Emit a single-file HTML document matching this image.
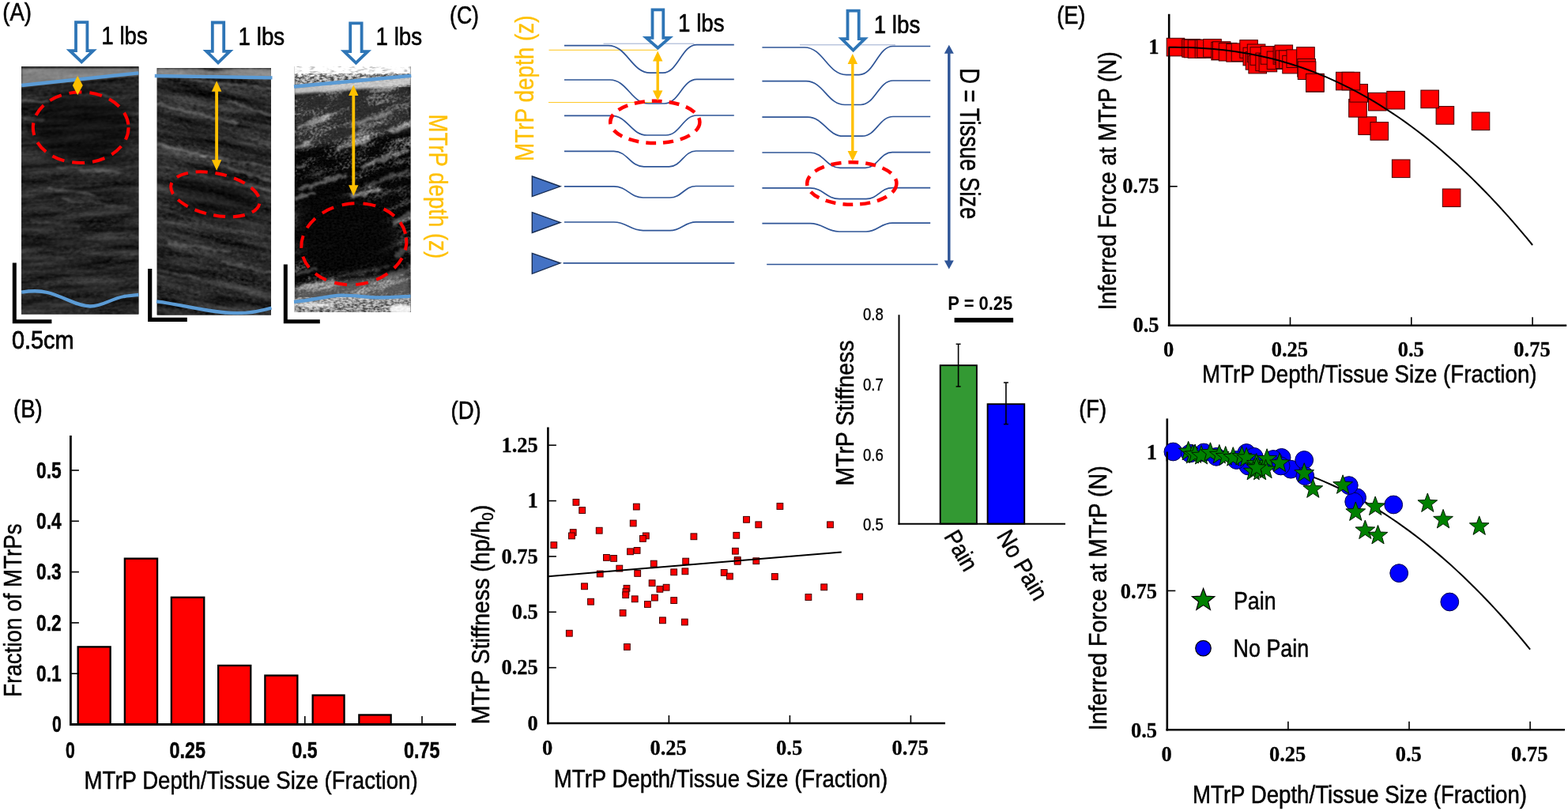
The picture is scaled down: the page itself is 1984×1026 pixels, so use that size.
<!DOCTYPE html>
<html lang="en"><head><meta charset="utf-8"><title>MTrP depth, stiffness and inferred force</title>
<style>
html,body{margin:0;padding:0;background:#fff;}
body{width:1984px;height:1026px;overflow:hidden;}
svg{display:block;font-family:"Liberation Sans",sans-serif;}
</style></head>
<body>
<svg width="1984" height="1026" viewBox="0 0 1984 1026">
<defs>
<filter id="us1" x="0" y="0" width="100%" height="100%" color-interpolation-filters="sRGB">
  <feTurbulence type="fractalNoise" baseFrequency="0.012 0.1" numOctaves="3" seed="7" result="a"/>
  <feTurbulence type="fractalNoise" baseFrequency="0.18 0.3" numOctaves="2" seed="2" result="b"/>
  <feComposite in="a" in2="b" operator="arithmetic" k1="0" k2="0.7" k3="0.3" k4="0"/>
  <feColorMatrix type="matrix" values="0.46 0 0 0 -0.082  0.46 0 0 0 -0.082  0.46 0 0 0 -0.082  0 0 0 0 1"/>
</filter>
<filter id="us2" x="0" y="0" width="100%" height="100%" color-interpolation-filters="sRGB">
  <feTurbulence type="fractalNoise" baseFrequency="0.011 0.085" numOctaves="3" seed="11" result="a"/>
  <feTurbulence type="fractalNoise" baseFrequency="0.2 0.3" numOctaves="2" seed="5" result="b"/>
  <feComposite in="a" in2="b" operator="arithmetic" k1="0" k2="0.65" k3="0.35" k4="0"/>
  <feColorMatrix type="matrix" values="0.56 0 0 0 -0.118  0.56 0 0 0 -0.118  0.56 0 0 0 -0.118  0 0 0 0 1"/>
</filter>
<filter id="us3" x="0" y="0" width="100%" height="100%" color-interpolation-filters="sRGB">
  <feTurbulence type="fractalNoise" baseFrequency="0.02 0.075" numOctaves="3" seed="23" result="a"/>
  <feTurbulence type="fractalNoise" baseFrequency="0.3 0.4" numOctaves="2" seed="9" result="b"/>
  <feComposite in="a" in2="b" operator="arithmetic" k1="0" k2="0.6" k3="0.4" k4="0"/>
  <feColorMatrix type="matrix" values="2.2 0 0 0 -1.07  2.2 0 0 0 -1.07  2.2 0 0 0 -1.07  0 0 0 0 1"/>
  <feGaussianBlur stdDeviation="0.7"/>
</filter>
<filter id="sp3" x="0" y="0" width="100%" height="100%" color-interpolation-filters="sRGB">
  <feTurbulence type="fractalNoise" baseFrequency="0.12 0.4" numOctaves="2" seed="4"/>
  <feColorMatrix type="matrix" values="2.2 0 0 0 -0.05  2.2 0 0 0 -0.05  2.2 0 0 0 -0.05  0 0 0 0 1"/>
</filter>
<filter id="sp5" x="0" y="0" width="100%" height="100%" color-interpolation-filters="sRGB">
  <feTurbulence type="fractalNoise" baseFrequency="0.22 0.4" numOctaves="2" seed="41"/>
  <feColorMatrix type="matrix" values="2.6 0 0 0 -0.72  2.6 0 0 0 -0.72  2.6 0 0 0 -0.72  0 0 0 0 1"/>
  <feGaussianBlur stdDeviation="0.5"/>
</filter>
<filter id="sp4" x="0" y="0" width="100%" height="100%" color-interpolation-filters="sRGB">
  <feTurbulence type="fractalNoise" baseFrequency="0.3 0.4" numOctaves="2" seed="14"/>
  <feColorMatrix type="matrix" values="2.4 0 0 0 -0.7  2.4 0 0 0 -0.7  2.4 0 0 0 -0.7  0 0 0 0 1"/>
</filter>
<filter id="bl1" x="-5%" y="-5%" width="110%" height="110%" color-interpolation-filters="sRGB">
  <feTurbulence type="fractalNoise" baseFrequency="0.09 0.12" numOctaves="2" seed="31" result="t"/>
  <feDisplacementMap in="SourceGraphic" in2="t" scale="7" xChannelSelector="R" yChannelSelector="G"/>
  <feGaussianBlur stdDeviation="1.1"/>
</filter>
<filter id="bl1b" x="-5%" y="-5%" width="110%" height="110%" color-interpolation-filters="sRGB">
  <feTurbulence type="fractalNoise" baseFrequency="0.11 0.15" numOctaves="2" seed="57" result="t"/>
  <feDisplacementMap in="SourceGraphic" in2="t" scale="10" xChannelSelector="R" yChannelSelector="G"/>
  <feGaussianBlur stdDeviation="1.3"/>
</filter>
<filter id="bl2" x="-20%" y="-50%" width="140%" height="200%"><feGaussianBlur stdDeviation="1.5"/></filter>
<filter id="bl3" x="-20%" y="-20%" width="140%" height="140%"><feGaussianBlur stdDeviation="3"/></filter>
<filter id="bl6" x="-30%" y="-30%" width="160%" height="160%"><feGaussianBlur stdDeviation="7"/></filter>
<filter id="bl10" x="-40%" y="-40%" width="180%" height="180%"><feGaussianBlur stdDeviation="11"/></filter>
<clipPath id="c1"><rect x="27" y="84.3" width="148.4" height="313.2"/></clipPath>
<clipPath id="c2"><rect x="198.7" y="86" width="144.3" height="312.4"/></clipPath>
<clipPath id="c3"><rect x="372.9" y="84" width="146.5" height="311"/></clipPath>
</defs>
<rect width="1984" height="1026" fill="#fff"/>
<text x="3.20" y="25.70" font-size="32" textLength="36.80" lengthAdjust="spacingAndGlyphs" stroke="#000" stroke-width="0.6">(A)</text>
<g clip-path="url(#c1)"><rect x="27" y="84" width="149" height="314" fill="#2b2b2b"/><g transform="rotate(-3 101 240)"><rect x="10" y="60" width="190" height="360" filter="url(#us1)"/></g><path d="M27,86 L176,86 L176,95 L27,110 Z" fill="#fff" opacity="0.42" filter="url(#bl2)"/><rect x="27" y="84" width="149" height="2.5" fill="#000" opacity="0.35"/><ellipse cx="104" cy="160" rx="62" ry="44" fill="#000" opacity="0.5" filter="url(#bl6)"/><g filter="url(#bl1)" stroke="#fff" stroke-linecap="round"><line x1="28" y1="126" x2="60" y2="130" stroke-width="3" opacity="0.2"/><line x1="30" y1="150" x2="55" y2="152" stroke-width="3" opacity="0.14"/><line x1="60" y1="238" x2="120" y2="247" stroke-width="3" opacity="0.18"/><line x1="80" y1="252" x2="160" y2="262" stroke-width="3" opacity="0.14"/><line x1="40" y1="280" x2="100" y2="286" stroke-width="4" opacity="0.1"/><line x1="110" y1="300" x2="175" y2="292" stroke-width="3" opacity="0.09"/><line x1="140" y1="330" x2="175" y2="322" stroke-width="4" opacity="0.09"/><line x1="90" y1="118" x2="150" y2="122" stroke-width="2.5" opacity="0.18"/><line x1="75" y1="212" x2="150" y2="218" stroke-width="3" opacity="0.15"/></g></g>
<g clip-path="url(#c2)"><rect x="198" y="85" width="146" height="314" fill="#333"/><g transform="rotate(11 271 240)"><rect x="160" y="40" width="230" height="400" filter="url(#us2)"/></g><ellipse cx="270" cy="248" rx="58" ry="26" fill="#000" opacity="0.4" filter="url(#bl6)" transform="rotate(12 270 248)"/><path d="M198,87 L250,87 L270,90 L300,87 L344,87 L344,99 L198,97 Z" fill="#fff" opacity="0.42" filter="url(#bl2)"/><g filter="url(#bl1)" stroke="#fff" stroke-linecap="round"><line x1="200" y1="132" x2="300" y2="156" stroke-width="3" opacity="0.22"/><line x1="290" y1="128" x2="343" y2="146" stroke-width="3" opacity="0.22"/><line x1="200" y1="182" x2="260" y2="198" stroke-width="4" opacity="0.26"/><line x1="255" y1="196" x2="343" y2="212" stroke-width="3" opacity="0.22"/><line x1="200" y1="210" x2="343" y2="242" stroke-width="2.5" opacity="0.15"/><line x1="290" y1="214" x2="343" y2="228" stroke-width="3" opacity="0.21"/><line x1="215" y1="308" x2="290" y2="318" stroke-width="4" opacity="0.19"/><line x1="280" y1="330" x2="343" y2="346" stroke-width="4" opacity="0.17"/><line x1="200" y1="262" x2="260" y2="282" stroke-width="3" opacity="0.11"/><line x1="200" y1="340" x2="250" y2="352" stroke-width="3" opacity="0.15"/><line x1="230" y1="100" x2="343" y2="112" stroke-width="3" opacity="0.19"/><line x1="200" y1="92" x2="260" y2="98" stroke-width="3" opacity="0.15"/></g></g>
<g clip-path="url(#c3)"><rect x="372" y="84" width="148" height="312" fill="#111"/><g transform="rotate(-17 446 240)"><rect x="320" y="30" width="260" height="420" filter="url(#us3)"/></g><path d="M372,118 L520,108 L520,165 L372,190 Z" fill="#fff" opacity="0.16" filter="url(#bl3)"/><ellipse cx="436" cy="300" rx="74" ry="54" fill="#000" opacity="0.95" filter="url(#bl10)"/><ellipse cx="400" cy="250" rx="40" ry="34" fill="#000" opacity="0.75" filter="url(#bl6)"/><ellipse cx="505" cy="235" rx="26" ry="26" fill="#000" opacity="0.5" filter="url(#bl6)"/><g filter="url(#bl1b)" stroke="#fff" stroke-linecap="round"><line x1="380" y1="160" x2="415" y2="149" stroke-width="5" opacity="0.4"/><line x1="445" y1="158" x2="495" y2="142" stroke-width="5" opacity="0.36"/><line x1="376" y1="186" x2="390" y2="181" stroke-width="5" opacity="0.44"/><line x1="425" y1="189" x2="465" y2="177" stroke-width="5" opacity="0.36"/><line x1="495" y1="165" x2="518" y2="158" stroke-width="5" opacity="0.44"/><line x1="376" y1="212" x2="384" y2="209" stroke-width="5" opacity="0.36"/><line x1="460" y1="210" x2="515" y2="190" stroke-width="6" opacity="0.36"/><line x1="380" y1="239" x2="435" y2="222" stroke-width="5" opacity="0.32"/><line x1="465" y1="234" x2="515" y2="216" stroke-width="5" opacity="0.24"/><line x1="376" y1="250" x2="398" y2="243" stroke-width="5" opacity="0.36"/><line x1="445" y1="249" x2="480" y2="239" stroke-width="6" opacity="0.4"/><line x1="376" y1="346" x2="400" y2="340" stroke-width="4" opacity="0.24"/><line x1="430" y1="350" x2="490" y2="338" stroke-width="4" opacity="0.16"/><line x1="376" y1="364" x2="420" y2="356" stroke-width="5" opacity="0.4"/><line x1="500" y1="282" x2="520" y2="272" stroke-width="8" opacity="0.28"/><line x1="503" y1="322" x2="520" y2="314" stroke-width="8" opacity="0.24"/><line x1="490" y1="350" x2="520" y2="340" stroke-width="8" opacity="0.24"/></g><path d="M372,84 L520,84 L520,93 L372,97 Z" fill="#fff"/><path d="M372,84 L520,84 L520,93 L372,97 Z" filter="url(#sp3)" opacity="0.55"/><path d="M372,97 L520,93 L520,99 L372,110 Z" fill="#9c9c9c"/><path d="M372,97 L520,93 L520,99 L372,110 Z" filter="url(#sp5)" opacity="0.6"/><path d="M372,110 L520,97 L520,108 L372,119 Z" fill="#d8d8d8" opacity="0.9" filter="url(#bl2)"/><path d="M372,384 L432,376 L480,379 L520,377 L520,396 L372,396 Z" fill="#9a9a9a" opacity="0.9"/><path d="M372,384 L432,376 L480,379 L520,377 L520,396 L372,396 Z" filter="url(#sp5)" opacity="0.5"/><path d="M372,362 L520,346 L520,378 L372,384 Z" fill="#fff" opacity="0.34" filter="url(#bl3)"/><ellipse cx="508" cy="391" rx="16" ry="6" fill="#fff" opacity="0.95" filter="url(#bl2)"/><ellipse cx="400" cy="386" rx="24" ry="2.5" fill="#fff" opacity="0.8" filter="url(#bl2)"/><rect x="372" y="97" width="148" height="300" filter="url(#sp4)" opacity="0.05"/></g>
<path d="M96.00,28.10 L110.40,28.10 L110.40,64.20 L118.02,64.20 L103.20,78.35 L88.38,64.20 L96.00,64.20 Z" fill="#fff" stroke="#2E75B6" stroke-width="3.8" stroke-linejoin="miter"/>
<path d="M268.80,28.50 L283.20,28.50 L283.20,64.90 L290.82,64.90 L276.00,79.35 L261.18,64.90 L268.80,64.90 Z" fill="#fff" stroke="#2E75B6" stroke-width="3.8" stroke-linejoin="miter"/>
<path d="M443.20,29.30 L457.60,29.30 L457.60,65.20 L465.32,65.20 L450.40,79.55 L435.48,65.20 L443.20,65.20 Z" fill="#fff" stroke="#2E75B6" stroke-width="3.8" stroke-linejoin="miter"/>
<text x="128.30" y="55.90" font-size="30.8" textLength="58.60" lengthAdjust="spacingAndGlyphs" stroke="#000" stroke-width="0.6">1 lbs</text>
<text x="301.60" y="57.40" font-size="30.8" textLength="58.60" lengthAdjust="spacingAndGlyphs" stroke="#000" stroke-width="0.6">1 lbs</text>
<text x="475.50" y="57.40" font-size="30.8" textLength="58.60" lengthAdjust="spacingAndGlyphs" stroke="#000" stroke-width="0.6">1 lbs</text>
<g fill="none" stroke="#5B9BD5" stroke-width="4.3">
<path d="M27.2,108 L175.4,92.3"/>
<path d="M27.2,369.6 C38,368 48,367 60,370 C80,375 98,387.5 114,387.5 C130,387.5 140,378 157,375 C164,374 170,373.5 175.4,373"/>
<path d="M195.8,96 L344.5,98.3"/>
<path d="M198,381.3 C235,386 265,396 300,396.2 C318,396.2 332,393 343.5,389.5"/>
<path d="M372,109.5 L520.3,95.8"/>
<path d="M372,381.8 C395,380 415,374 432,373.6 C450,373.4 465,376.5 480,376.4 C495,376.3 508,375.3 519.5,374.7"/>
</g>
<g fill="none" stroke="#FF0000" stroke-width="4">
<ellipse cx="102.2" cy="161.3" rx="60.4" ry="44.8" stroke-dasharray="16 10"/>
<ellipse cx="272.4" cy="245.8" rx="57.2" ry="26.4" transform="rotate(12 272.4 245.8)" stroke-dasharray="15 9.7"/>
<ellipse cx="447.8" cy="308.7" rx="66.8" ry="51.3" stroke-dasharray="16 11" transform="rotate(-7 447.8 308.7)"/>
</g>
<path d="M98.2,96 L104.8,108 L98.2,120.2 L91.8,108 Z" fill="#FFC000"/>
<line x1="274.10" y1="114.80" x2="274.10" y2="203.20" stroke="#FFC000" stroke-width="3.8" /><path d="M274.10,102.20 L280.30,115.80 L267.90,115.80 Z M274.10,215.80 L280.30,202.20 L267.90,202.20 Z" fill="#FFC000"/>
<line x1="447.30" y1="120.10" x2="447.30" y2="235.20" stroke="#FFC000" stroke-width="3.8" /><path d="M447.30,107.50 L453.50,121.10 L441.10,121.10 Z M447.30,247.80 L453.50,234.20 L441.10,234.20 Z" fill="#FFC000"/>
<path d="M18.3,332.5 L18.3,406.8 L65.4,406.8" fill="none" stroke="#000" stroke-width="5"/>
<path d="M189.7,340 L189.7,404.3 L236.8,404.3" fill="none" stroke="#000" stroke-width="5.2"/>
<path d="M361.3,334.6 L361.3,406.8 L404.8,406.8" fill="none" stroke="#000" stroke-width="5"/>
<text x="15.00" y="441.20" font-size="31.2" textLength="78.60" lengthAdjust="spacingAndGlyphs" stroke="#000" stroke-width="0.8">0.5cm</text>
<text transform="translate(542.60 144.60) rotate(90)" font-size="32.4" fill="#FFC000" textLength="182.50" lengthAdjust="spacingAndGlyphs" stroke="#FFC000" stroke-width="0.3">MTrP depth (z)</text>
<text x="17.00" y="528.20" font-size="32" textLength="36.80" lengthAdjust="spacingAndGlyphs" stroke="#000" stroke-width="0.6">(B)</text>
<line x1="237.60" y1="916.50" x2="237.60" y2="906.00" stroke="#000" stroke-width="1.6" />
<line x1="385.80" y1="916.50" x2="385.80" y2="906.00" stroke="#000" stroke-width="1.6" />
<line x1="534.00" y1="916.50" x2="534.00" y2="906.00" stroke="#000" stroke-width="1.6" />
<rect x="98.65" y="818.35" width="41.00" height="98.15" fill="#FF0000" stroke="#000" stroke-width="2.3" />
<rect x="157.85" y="706.65" width="41.20" height="209.85" fill="#FF0000" stroke="#000" stroke-width="2.3" />
<rect x="216.85" y="755.75" width="41.40" height="160.75" fill="#FF0000" stroke="#000" stroke-width="2.3" />
<rect x="276.15" y="841.95" width="41.10" height="74.55" fill="#FF0000" stroke="#000" stroke-width="2.3" />
<rect x="335.35" y="854.55" width="41.00" height="61.95" fill="#FF0000" stroke="#000" stroke-width="2.3" />
<rect x="395.65" y="879.55" width="39.90" height="36.95" fill="#FF0000" stroke="#000" stroke-width="2.3" />
<rect x="454.35" y="904.45" width="40.30" height="12.05" fill="#FF0000" stroke="#000" stroke-width="2.3" />
<line x1="89.40" y1="551.00" x2="89.40" y2="917.90" stroke="#000" stroke-width="2.8" />
<line x1="88.00" y1="916.50" x2="577.00" y2="916.50" stroke="#000" stroke-width="2.8" />
<text x="77.70" y="926.10" font-size="28.8" font-weight="bold" text-anchor="end" textLength="11.80" lengthAdjust="spacingAndGlyphs" stroke="#000" stroke-width="0.5">0</text>
<line x1="89.40" y1="852.20" x2="99.90" y2="852.20" stroke="#000" stroke-width="1.6" />
<text x="77.70" y="861.80" font-size="28.8" font-weight="bold" text-anchor="end" textLength="31.60" lengthAdjust="spacingAndGlyphs" stroke="#000" stroke-width="0.5">0.1</text>
<line x1="89.40" y1="787.90" x2="99.90" y2="787.90" stroke="#000" stroke-width="1.6" />
<text x="77.70" y="797.50" font-size="28.8" font-weight="bold" text-anchor="end" textLength="31.60" lengthAdjust="spacingAndGlyphs" stroke="#000" stroke-width="0.5">0.2</text>
<line x1="89.40" y1="723.60" x2="99.90" y2="723.60" stroke="#000" stroke-width="1.6" />
<text x="77.70" y="733.20" font-size="28.8" font-weight="bold" text-anchor="end" textLength="31.60" lengthAdjust="spacingAndGlyphs" stroke="#000" stroke-width="0.5">0.3</text>
<line x1="89.40" y1="659.30" x2="99.90" y2="659.30" stroke="#000" stroke-width="1.6" />
<text x="77.70" y="668.90" font-size="28.8" font-weight="bold" text-anchor="end" textLength="31.60" lengthAdjust="spacingAndGlyphs" stroke="#000" stroke-width="0.5">0.4</text>
<line x1="89.40" y1="595.00" x2="99.90" y2="595.00" stroke="#000" stroke-width="1.6" />
<text x="77.70" y="604.60" font-size="28.8" font-weight="bold" text-anchor="end" textLength="31.60" lengthAdjust="spacingAndGlyphs" stroke="#000" stroke-width="0.5">0.5</text>
<text x="88.80" y="958.60" font-size="28.8" font-weight="bold" text-anchor="middle" textLength="11.80" lengthAdjust="spacingAndGlyphs" stroke="#000" stroke-width="0.5">0</text>
<text x="237.30" y="958.60" font-size="28.8" font-weight="bold" text-anchor="middle" textLength="45.40" lengthAdjust="spacingAndGlyphs" stroke="#000" stroke-width="0.5">0.25</text>
<text x="385.50" y="958.60" font-size="28.8" font-weight="bold" text-anchor="middle" textLength="32.00" lengthAdjust="spacingAndGlyphs" stroke="#000" stroke-width="0.5">0.5</text>
<text x="533.70" y="958.60" font-size="28.8" font-weight="bold" text-anchor="middle" textLength="45.40" lengthAdjust="spacingAndGlyphs" stroke="#000" stroke-width="0.5">0.75</text>
<text transform="translate(26.80 881.80) rotate(-90)" font-size="30.5" textLength="219.50" lengthAdjust="spacingAndGlyphs" stroke="#000" stroke-width="0.5">Fraction of MTrPs</text>
<text x="106.60" y="998.00" font-size="30.5" textLength="422.00" lengthAdjust="spacingAndGlyphs" stroke="#000" stroke-width="0.5">MTrP Depth/Tissue Size (Fraction)</text>
<text x="569.00" y="29.50" font-size="32" textLength="37.00" lengthAdjust="spacingAndGlyphs" stroke="#000" stroke-width="0.6">(C)</text>
<text transform="translate(675.20 204.00) rotate(-90)" font-size="32.4" fill="#FFC000" textLength="184.50" lengthAdjust="spacingAndGlyphs" stroke="#FFC000" stroke-width="0.3">MTrP depth (z)</text>
<line x1="763.50" y1="55.20" x2="878.00" y2="55.20" stroke="#8FA2C8" stroke-width="0.9" />
<line x1="1012.00" y1="56.80" x2="1133.00" y2="56.80" stroke="#8FA2C8" stroke-width="0.9" />
<line x1="694.50" y1="63.30" x2="832.00" y2="63.30" stroke="#FFC000" stroke-width="0.9" />
<line x1="694.00" y1="129.60" x2="832.00" y2="129.60" stroke="#FFC000" stroke-width="0.9" />
<g fill="none" stroke="#2F5597" stroke-width="1.7">
<path d="M714.0,57.6 L769.7,57.6 C793.6,57.6 798.9,92.1 822.7,92.1 L838.7,92.1 C858.1,92.1 862.4,56.6 881.7,56.6 L928.8,56.6"/>
<path d="M714.0,101.0 L771.7,101.0 C793.8,101.0 798.7,131.0 820.7,131.0 L840.7,131.0 C859.2,131.0 863.2,100.4 881.7,100.4 L928.8,100.4"/>
<path d="M714.0,146.4 L773.7,146.4 C794.0,146.4 798.5,171.0 818.7,171.0 L842.7,171.0 C860.2,171.0 864.2,146.0 881.7,146.0 L928.8,146.0"/>
<path d="M714.0,191.3 L776.7,191.3 C793.8,191.3 797.6,210.9 814.7,210.9 L846.7,210.9 C862.0,210.9 865.4,191.0 880.7,191.0 L928.8,191.0"/>
<path d="M714.0,235.8 L776.7,235.8 C793.4,235.8 797.1,250.0 813.7,250.0 L847.7,250.0 C862.6,250.0 865.9,235.5 880.7,235.5 L928.8,235.5"/>
<path d="M714.0,281.0 L776.7,281.0 C793.4,281.0 797.1,291.6 813.7,291.6 L847.7,291.6 C862.6,291.6 865.9,280.8 880.7,280.8 L928.8,280.8"/>
<path d="M712.6,332.8 L929.4,332.8"/>
<path d="M964.4,60.0 L1018.0,60.0 C1041.8,60.0 1047.2,94.6 1071.0,94.6 L1087.0,94.6 C1106.3,94.6 1110.7,58.5 1130.0,58.5 L1177.2,58.5"/>
<path d="M964.4,102.7 L1020.0,102.7 C1042.0,102.7 1047.0,132.5 1069.0,132.5 L1089.0,132.5 C1107.5,132.5 1111.5,102.0 1130.0,102.0 L1177.2,102.0"/>
<path d="M964.4,148.2 L1022.0,148.2 C1042.2,148.2 1046.8,172.2 1067.0,172.2 L1091.0,172.2 C1108.5,172.2 1112.5,147.5 1130.0,147.5 L1177.2,147.5"/>
<path d="M964.4,193.0 L1025.0,193.0 C1042.1,193.0 1045.9,212.4 1063.0,212.4 L1095.0,212.4 C1110.3,212.4 1113.7,192.6 1129.0,192.6 L1177.2,192.6"/>
<path d="M964.4,237.8 L1025.0,237.8 C1041.7,237.8 1045.3,251.6 1062.0,251.6 L1096.0,251.6 C1110.8,251.6 1114.2,237.6 1129.0,237.6 L1177.2,237.6"/>
<path d="M964.4,282.6 L1025.0,282.6 C1041.7,282.6 1045.3,293.0 1062.0,293.0 L1096.0,293.0 C1110.8,293.0 1114.2,282.2 1129.0,282.2 L1177.2,282.2"/>
<path d="M970.2,334.5 L1186.7,334.5"/>
</g>
<g fill="none" stroke="#FF0000" stroke-width="4.5" stroke-dasharray="13 9">
<ellipse cx="828.8" cy="154.4" rx="56.6" ry="26.6"/>
<ellipse cx="1077.8" cy="232" rx="56.6" ry="26.8"/>
</g>
<line x1="832.20" y1="76.60" x2="832.20" y2="115.40" stroke="#FFC000" stroke-width="3.4" /><path d="M832.20,64.60 L838.45,77.60 L825.95,77.60 Z M832.20,127.40 L838.45,114.40 L825.95,114.40 Z" fill="#FFC000"/>
<line x1="1078.80" y1="80.00" x2="1078.80" y2="192.00" stroke="#FFC000" stroke-width="3.4" /><path d="M1078.80,68.00 L1085.05,81.00 L1072.55,81.00 Z M1078.80,204.00 L1085.05,191.00 L1072.55,191.00 Z" fill="#FFC000"/>
<path d="M825.50,12.30 L839.30,12.30 L839.30,47.90 L847.02,47.90 L832.40,60.75 L817.78,47.90 L825.50,47.90 Z" fill="#fff" stroke="#2E75B6" stroke-width="3.8" stroke-linejoin="miter"/>
<path d="M1072.50,13.70 L1086.70,13.70 L1086.70,49.10 L1094.22,49.10 L1079.60,63.55 L1064.98,49.10 L1072.50,49.10 Z" fill="#fff" stroke="#2E75B6" stroke-width="3.8" stroke-linejoin="miter"/>
<text x="858.00" y="40.30" font-size="30.8" textLength="58.60" lengthAdjust="spacingAndGlyphs" stroke="#000" stroke-width="0.6">1 lbs</text>
<text x="1105.70" y="41.80" font-size="30.8" textLength="58.60" lengthAdjust="spacingAndGlyphs" stroke="#000" stroke-width="0.6">1 lbs</text>
<path d="M673.3,223 L709,235.8 L673.3,248.6 Z" fill="#4472C4" stroke="#172C51" stroke-width="1.4"/>
<path d="M673.3,268.7 L709,281.4 L673.3,294.4 Z" fill="#4472C4" stroke="#172C51" stroke-width="1.4"/>
<path d="M673.3,320.4 L709,332.8 L673.3,346.3 Z" fill="#4472C4" stroke="#172C51" stroke-width="1.4"/>
<line x1="1200.80" y1="66.80" x2="1200.80" y2="330.60" stroke="#2F5597" stroke-width="3.4" /><path d="M1200.80,56.80 L1206.80,67.80 L1194.80,67.80 Z M1200.80,340.60 L1206.80,329.60 L1194.80,329.60 Z" fill="#2F5597"/>
<text transform="translate(1214.60 86.20) rotate(90)" font-size="34.5" textLength="191.00" lengthAdjust="spacingAndGlyphs" stroke="#000" stroke-width="0.5">D = Tissue Size</text>
<text x="570.50" y="529.50" font-size="32" textLength="38.20" lengthAdjust="spacingAndGlyphs" stroke="#000" stroke-width="0.6">(D)</text>
<line x1="693.40" y1="540.50" x2="693.40" y2="916.30" stroke="#000" stroke-width="2.6" />
<line x1="692.10" y1="915.00" x2="1196.00" y2="915.00" stroke="#000" stroke-width="2.6" />
<text x="680.80" y="923.80" font-size="26.5" font-family='"Liberation Serif", serif' font-weight="bold" text-anchor="end" stroke="#000" stroke-width="0.3">0</text>
<line x1="693.40" y1="844.65" x2="703.90" y2="844.65" stroke="#000" stroke-width="1.6" />
<text x="680.80" y="853.45" font-size="26.5" font-family='"Liberation Serif", serif' font-weight="bold" text-anchor="end" stroke="#000" stroke-width="0.3">0.25</text>
<line x1="693.40" y1="774.30" x2="703.90" y2="774.30" stroke="#000" stroke-width="1.6" />
<text x="680.80" y="783.10" font-size="26.5" font-family='"Liberation Serif", serif' font-weight="bold" text-anchor="end" stroke="#000" stroke-width="0.3">0.5</text>
<line x1="693.40" y1="703.95" x2="703.90" y2="703.95" stroke="#000" stroke-width="1.6" />
<text x="680.80" y="712.75" font-size="26.5" font-family='"Liberation Serif", serif' font-weight="bold" text-anchor="end" stroke="#000" stroke-width="0.3">0.75</text>
<line x1="693.40" y1="633.60" x2="703.90" y2="633.60" stroke="#000" stroke-width="1.6" />
<text x="680.80" y="642.40" font-size="26.5" font-family='"Liberation Serif", serif' font-weight="bold" text-anchor="end" stroke="#000" stroke-width="0.3">1</text>
<line x1="693.40" y1="563.25" x2="703.90" y2="563.25" stroke="#000" stroke-width="1.6" />
<text x="680.80" y="572.05" font-size="26.5" font-family='"Liberation Serif", serif' font-weight="bold" text-anchor="end" stroke="#000" stroke-width="0.3">1.25</text>
<text x="692.60" y="954.50" font-size="26.5" font-family='"Liberation Serif", serif' font-weight="bold" text-anchor="middle" stroke="#000" stroke-width="0.3">0</text>
<line x1="846.40" y1="915.00" x2="846.40" y2="905.00" stroke="#000" stroke-width="1.6" />
<text x="845.60" y="954.50" font-size="26.5" font-family='"Liberation Serif", serif' font-weight="bold" text-anchor="middle" stroke="#000" stroke-width="0.3">0.25</text>
<line x1="999.40" y1="915.00" x2="999.40" y2="905.00" stroke="#000" stroke-width="1.6" />
<text x="998.60" y="954.50" font-size="26.5" font-family='"Liberation Serif", serif' font-weight="bold" text-anchor="middle" stroke="#000" stroke-width="0.3">0.5</text>
<line x1="1152.40" y1="915.00" x2="1152.40" y2="905.00" stroke="#000" stroke-width="1.6" />
<text x="1151.60" y="954.50" font-size="26.5" font-family='"Liberation Serif", serif' font-weight="bold" text-anchor="middle" stroke="#000" stroke-width="0.3">0.75</text>
<g fill="#FF0000" stroke="#400000" stroke-width="1">
<rect x="725.0" y="631.5" width="7.8" height="7.8"/>
<rect x="732.8" y="641.7" width="7.8" height="7.8"/>
<rect x="801.4" y="637.2" width="7.8" height="7.8"/>
<rect x="797.3" y="658.1" width="7.8" height="7.8"/>
<rect x="754.3" y="667.3" width="7.8" height="7.8"/>
<rect x="721.3" y="669.7" width="7.8" height="7.8"/>
<rect x="719.5" y="674.0" width="7.8" height="7.8"/>
<rect x="813.4" y="674.0" width="7.8" height="7.8"/>
<rect x="809.5" y="677.5" width="7.8" height="7.8"/>
<rect x="874.0" y="674.9" width="7.8" height="7.8"/>
<rect x="696.9" y="685.7" width="7.8" height="7.8"/>
<rect x="802.2" y="692.5" width="7.8" height="7.8"/>
<rect x="793.6" y="693.9" width="7.8" height="7.8"/>
<rect x="763.5" y="701.5" width="7.8" height="7.8"/>
<rect x="772.7" y="702.5" width="7.8" height="7.8"/>
<rect x="823.3" y="709.2" width="7.8" height="7.8"/>
<rect x="863.8" y="706.2" width="7.8" height="7.8"/>
<rect x="779.9" y="715.2" width="7.8" height="7.8"/>
<rect x="755.3" y="722.1" width="7.8" height="7.8"/>
<rect x="802.8" y="721.5" width="7.8" height="7.8"/>
<rect x="848.8" y="719.9" width="7.8" height="7.8"/>
<rect x="863.0" y="718.9" width="7.8" height="7.8"/>
<rect x="735.6" y="737.9" width="7.8" height="7.8"/>
<rect x="821.2" y="733.8" width="7.8" height="7.8"/>
<rect x="839.2" y="739.3" width="7.8" height="7.8"/>
<rect x="831.0" y="741.4" width="7.8" height="7.8"/>
<rect x="789.1" y="740.4" width="7.8" height="7.8"/>
<rect x="788.0" y="744.7" width="7.8" height="7.8"/>
<rect x="787.8" y="748.8" width="7.8" height="7.8"/>
<rect x="799.3" y="753.9" width="7.8" height="7.8"/>
<rect x="824.5" y="752.2" width="7.8" height="7.8"/>
<rect x="848.8" y="755.7" width="7.8" height="7.8"/>
<rect x="743.6" y="757.3" width="7.8" height="7.8"/>
<rect x="815.5" y="760.6" width="7.8" height="7.8"/>
<rect x="784.2" y="771.5" width="7.8" height="7.8"/>
<rect x="834.5" y="780.9" width="7.8" height="7.8"/>
<rect x="862.4" y="783.1" width="7.8" height="7.8"/>
<rect x="716.4" y="797.3" width="7.8" height="7.8"/>
<rect x="789.5" y="814.5" width="7.8" height="7.8"/>
<rect x="983.0" y="636.6" width="7.8" height="7.8"/>
<rect x="940.6" y="653.4" width="7.8" height="7.8"/>
<rect x="955.9" y="659.9" width="7.8" height="7.8"/>
<rect x="1046.6" y="659.9" width="7.8" height="7.8"/>
<rect x="927.9" y="673.4" width="7.8" height="7.8"/>
<rect x="926.5" y="693.3" width="7.8" height="7.8"/>
<rect x="929.3" y="704.5" width="7.8" height="7.8"/>
<rect x="929.3" y="706.4" width="7.8" height="7.8"/>
<rect x="952.9" y="705.8" width="7.8" height="7.8"/>
<rect x="912.3" y="720.5" width="7.8" height="7.8"/>
<rect x="919.5" y="725.2" width="7.8" height="7.8"/>
<rect x="976.4" y="725.6" width="7.8" height="7.8"/>
<rect x="1038.8" y="738.9" width="7.8" height="7.8"/>
<rect x="1019.0" y="751.6" width="7.8" height="7.8"/>
<rect x="1083.8" y="751.0" width="7.8" height="7.8"/>
</g>
<line x1="693.40" y1="729.20" x2="1064.80" y2="698.50" stroke="#000" stroke-width="2" />
<text transform="translate(618.50 916.30) rotate(-90)" font-size="30.5" textLength="277.50" lengthAdjust="spacingAndGlyphs" stroke="#000" stroke-width="0.5">MTrP Stiffness (hp/h<tspan font-size="20" dy="5">0</tspan><tspan dy="-5">)</tspan></text>
<text x="700.80" y="996.20" font-size="30.5" textLength="422.50" lengthAdjust="spacingAndGlyphs" stroke="#000" stroke-width="0.5">MTrP Depth/Tissue Size (Fraction)</text>
<rect x="1189.70" y="462.20" width="46.20" height="200.50" fill="#339933" stroke="#000" stroke-width="1.9" />
<rect x="1249.60" y="511.20" width="46.60" height="151.50" fill="#0000FF" stroke="#000" stroke-width="1.9" />
<line x1="1137.50" y1="398.20" x2="1137.50" y2="663.70" stroke="#000" stroke-width="2" />
<line x1="1136.50" y1="662.70" x2="1348.00" y2="662.70" stroke="#000" stroke-width="2" />
<text x="1092.00" y="405.40" font-size="22" textLength="25.80" lengthAdjust="spacingAndGlyphs" stroke="#000" stroke-width="0.35">0.8</text>
<text x="1092.00" y="493.70" font-size="22" textLength="25.80" lengthAdjust="spacingAndGlyphs" stroke="#000" stroke-width="0.35">0.7</text>
<text x="1092.00" y="582.60" font-size="22" textLength="25.80" lengthAdjust="spacingAndGlyphs" stroke="#000" stroke-width="0.35">0.6</text>
<text x="1092.00" y="670.60" font-size="22" textLength="25.80" lengthAdjust="spacingAndGlyphs" stroke="#000" stroke-width="0.35">0.5</text>
<line x1="1212.60" y1="435.30" x2="1212.60" y2="489.00" stroke="#000" stroke-width="1.6" />
<line x1="1209.60" y1="435.30" x2="1215.60" y2="435.30" stroke="#000" stroke-width="1.5" />
<line x1="1209.60" y1="489.00" x2="1215.60" y2="489.00" stroke="#000" stroke-width="1.5" />
<line x1="1272.90" y1="484.00" x2="1272.90" y2="536.60" stroke="#000" stroke-width="1.6" />
<line x1="1269.90" y1="484.00" x2="1275.90" y2="484.00" stroke="#000" stroke-width="1.5" />
<line x1="1269.90" y1="536.60" x2="1275.90" y2="536.60" stroke="#000" stroke-width="1.5" />
<text x="1199.30" y="391.80" font-size="23" font-weight="bold" textLength="82.00" lengthAdjust="spacingAndGlyphs">P = 0.25</text>
<rect x="1207.60" y="402.10" width="74.50" height="5.80" fill="#000" />
<text transform="translate(1080.00 614.50) rotate(-90)" font-size="30.5" textLength="184.00" lengthAdjust="spacingAndGlyphs" stroke="#000" stroke-width="0.5">MTrP Stiffness</text>
<text transform="translate(1193.80 678.50) rotate(60)" font-size="30.5" textLength="53.50" lengthAdjust="spacingAndGlyphs" stroke="#000" stroke-width="0.5">Pain</text>
<text transform="translate(1260.50 678.00) rotate(60)" font-size="30.5" textLength="97.00" lengthAdjust="spacingAndGlyphs" stroke="#000" stroke-width="0.5">No Pain</text>
<text x="1337.20" y="29.80" font-size="32" textLength="36.20" lengthAdjust="spacingAndGlyphs" stroke="#000" stroke-width="0.6">(E)</text>
<line x1="1479.20" y1="17.70" x2="1479.20" y2="413.10" stroke="#000" stroke-width="2.6" />
<line x1="1477.90" y1="411.80" x2="1982.20" y2="411.80" stroke="#000" stroke-width="2.6" />
<text x="1466.60" y="420.10" font-size="26.5" font-family='"Liberation Serif", serif' font-weight="bold" text-anchor="end" stroke="#000" stroke-width="0.3">0.5</text>
<line x1="1479.20" y1="235.80" x2="1489.70" y2="235.80" stroke="#000" stroke-width="1.6" />
<text x="1466.60" y="244.10" font-size="26.5" font-family='"Liberation Serif", serif' font-weight="bold" text-anchor="end" stroke="#000" stroke-width="0.3">0.75</text>
<line x1="1479.20" y1="59.80" x2="1489.70" y2="59.80" stroke="#000" stroke-width="1.6" />
<text x="1466.60" y="68.10" font-size="26.5" font-family='"Liberation Serif", serif' font-weight="bold" text-anchor="end" stroke="#000" stroke-width="0.3">1</text>
<text x="1478.60" y="450.80" font-size="26.5" font-family='"Liberation Serif", serif' font-weight="bold" text-anchor="middle" stroke="#000" stroke-width="0.3">0</text>
<line x1="1632.50" y1="411.80" x2="1632.50" y2="401.30" stroke="#000" stroke-width="1.6" />
<text x="1631.90" y="450.80" font-size="26.5" font-family='"Liberation Serif", serif' font-weight="bold" text-anchor="middle" stroke="#000" stroke-width="0.3">0.25</text>
<line x1="1785.80" y1="411.80" x2="1785.80" y2="401.30" stroke="#000" stroke-width="1.6" />
<text x="1785.20" y="450.80" font-size="26.5" font-family='"Liberation Serif", serif' font-weight="bold" text-anchor="middle" stroke="#000" stroke-width="0.3">0.5</text>
<line x1="1939.10" y1="411.80" x2="1939.10" y2="401.30" stroke="#000" stroke-width="1.6" />
<text x="1938.50" y="450.80" font-size="26.5" font-family='"Liberation Serif", serif' font-weight="bold" text-anchor="middle" stroke="#000" stroke-width="0.3">0.75</text>
<g fill="#FF0000" stroke="#400000" stroke-width="1">
<rect x="1476.2" y="48.3" width="22.6" height="22.6"/>
<rect x="1495.7" y="49.6" width="22.6" height="22.6"/>
<rect x="1498.1" y="50.2" width="22.6" height="22.6"/>
<rect x="1503.2" y="50.7" width="22.6" height="22.6"/>
<rect x="1512.2" y="50.7" width="22.6" height="22.6"/>
<rect x="1514.8" y="50.2" width="22.6" height="22.6"/>
<rect x="1522.7" y="49.6" width="22.6" height="22.6"/>
<rect x="1532.8" y="53.3" width="22.6" height="22.6"/>
<rect x="1534.4" y="52.8" width="22.6" height="22.6"/>
<rect x="1542.3" y="54.4" width="22.6" height="22.6"/>
<rect x="1551.8" y="55.5" width="22.6" height="22.6"/>
<rect x="1558.2" y="54.9" width="22.6" height="22.6"/>
<rect x="1568.8" y="50.7" width="22.6" height="22.6"/>
<rect x="1573.0" y="60.2" width="22.6" height="22.6"/>
<rect x="1576.2" y="65.5" width="22.6" height="22.6"/>
<rect x="1578.3" y="56.0" width="22.6" height="22.6"/>
<rect x="1579.9" y="70.3" width="22.6" height="22.6"/>
<rect x="1582.0" y="59.7" width="22.6" height="22.6"/>
<rect x="1588.9" y="67.1" width="22.6" height="22.6"/>
<rect x="1593.1" y="68.2" width="22.6" height="22.6"/>
<rect x="1595.2" y="58.6" width="22.6" height="22.6"/>
<rect x="1603.2" y="65.0" width="22.6" height="22.6"/>
<rect x="1611.1" y="58.6" width="22.6" height="22.6"/>
<rect x="1613.0" y="57.0" width="22.6" height="22.6"/>
<rect x="1614.3" y="63.9" width="22.6" height="22.6"/>
<rect x="1618.5" y="63.9" width="22.6" height="22.6"/>
<rect x="1622.8" y="70.3" width="22.6" height="22.6"/>
<rect x="1628.0" y="62.9" width="22.6" height="22.6"/>
<rect x="1640.7" y="59.7" width="22.6" height="22.6"/>
<rect x="1641.8" y="74.5" width="22.6" height="22.6"/>
<rect x="1642.3" y="77.9" width="22.6" height="22.6"/>
<rect x="1652.6" y="93.6" width="22.6" height="22.6"/>
<rect x="1761.4" y="202.0" width="22.6" height="22.6"/>
<rect x="1825.3" y="239.0" width="22.6" height="22.6"/>
<rect x="1862.2" y="142.0" width="22.6" height="22.6"/>
<rect x="1817.1" y="134.6" width="22.6" height="22.6"/>
<rect x="1797.9" y="114.1" width="22.6" height="22.6"/>
<rect x="1754.8" y="115.4" width="22.6" height="22.6"/>
<rect x="1731.5" y="117.4" width="22.6" height="22.6"/>
<rect x="1718.8" y="147.8" width="22.6" height="22.6"/>
<rect x="1734.0" y="154.6" width="22.6" height="22.6"/>
<rect x="1706.7" y="125.5" width="22.6" height="22.6"/>
<rect x="1707.9" y="106.5" width="22.6" height="22.6"/>
<rect x="1690.5" y="91.3" width="22.6" height="22.6"/>
<rect x="1698.1" y="91.3" width="22.6" height="22.6"/>
<rect x="1652.5" y="93.3" width="22.6" height="22.6"/>
</g>
<path d="M1479.20,411.80 L1479.20,59.80 L1479.20,59.80 L1486.87,59.82 L1494.53,59.92 L1502.19,60.09 L1509.86,60.35 L1517.53,60.72 L1525.19,61.18 L1532.86,61.76 L1540.52,62.45 L1548.18,63.26 L1555.85,64.19 L1563.52,65.24 L1571.18,66.42 L1578.85,67.73 L1586.51,69.17 L1594.17,70.75 L1601.84,72.47 L1609.51,74.33 L1617.17,76.33 L1624.84,78.47 L1632.50,80.76 L1640.16,83.20 L1647.83,85.79 L1655.50,88.54 L1663.16,91.43 L1670.83,94.49 L1678.49,97.70 L1686.16,101.07 L1693.82,104.60 L1701.49,108.29 L1709.15,112.14 L1716.82,116.16 L1724.48,120.35 L1732.14,124.71 L1739.81,129.23 L1747.48,133.92 L1755.14,138.79 L1762.81,143.83 L1770.47,149.04 L1778.13,154.43 L1785.80,160.00 L1793.47,165.74 L1801.13,171.66 L1808.80,177.76 L1816.46,184.04 L1824.12,190.51 L1831.79,197.15 L1839.46,203.99 L1847.12,211.00 L1854.79,218.21 L1862.45,225.60 L1870.12,233.17 L1877.78,240.94 L1885.45,248.90 L1893.11,257.05 L1900.78,265.39 L1908.44,273.92 L1916.11,282.65 L1923.77,291.57 L1931.44,300.69 L1939.10,310.00" fill="none" stroke="#000" stroke-width="2" stroke-linejoin="round"/>
<text transform="translate(1412.30 392.30) rotate(-90)" font-size="30.5" textLength="327.00" lengthAdjust="spacingAndGlyphs" stroke="#000" stroke-width="0.5">Inferred Force at MTrP (N)</text>
<text x="1521.00" y="483.70" font-size="30.5" textLength="423.50" lengthAdjust="spacingAndGlyphs" stroke="#000" stroke-width="0.5">MTrP Depth/Tissue Size (Fraction)</text>
<text x="1365.30" y="527.90" font-size="32" textLength="34.80" lengthAdjust="spacingAndGlyphs" stroke="#000" stroke-width="0.6">(F)</text>
<line x1="1476.80" y1="529.50" x2="1476.80" y2="924.60" stroke="#000" stroke-width="2.6" />
<line x1="1475.50" y1="923.30" x2="1980.00" y2="923.30" stroke="#000" stroke-width="2.6" />
<text x="1464.00" y="932.50" font-size="26.5" font-family='"Liberation Serif", serif' font-weight="bold" text-anchor="end" stroke="#000" stroke-width="0.3">0.5</text>
<line x1="1476.80" y1="747.40" x2="1487.30" y2="747.40" stroke="#000" stroke-width="1.6" />
<text x="1464.00" y="756.60" font-size="26.5" font-family='"Liberation Serif", serif' font-weight="bold" text-anchor="end" stroke="#000" stroke-width="0.3">0.75</text>
<line x1="1476.80" y1="571.50" x2="1487.30" y2="571.50" stroke="#000" stroke-width="1.6" />
<text x="1464.00" y="580.70" font-size="26.5" font-family='"Liberation Serif", serif' font-weight="bold" text-anchor="end" stroke="#000" stroke-width="0.3">1</text>
<text x="1476.00" y="962.50" font-size="26.5" font-family='"Liberation Serif", serif' font-weight="bold" text-anchor="middle" stroke="#000" stroke-width="0.3">0</text>
<line x1="1629.90" y1="923.30" x2="1629.90" y2="912.80" stroke="#000" stroke-width="1.6" />
<text x="1629.10" y="962.50" font-size="26.5" font-family='"Liberation Serif", serif' font-weight="bold" text-anchor="middle" stroke="#000" stroke-width="0.3">0.25</text>
<line x1="1783.00" y1="923.30" x2="1783.00" y2="912.80" stroke="#000" stroke-width="1.6" />
<text x="1782.20" y="962.50" font-size="26.5" font-family='"Liberation Serif", serif' font-weight="bold" text-anchor="middle" stroke="#000" stroke-width="0.3">0.5</text>
<line x1="1936.10" y1="923.30" x2="1936.10" y2="912.80" stroke="#000" stroke-width="1.6" />
<text x="1935.30" y="962.50" font-size="26.5" font-family='"Liberation Serif", serif' font-weight="bold" text-anchor="middle" stroke="#000" stroke-width="0.3">0.75</text>
<path d="M1476.80,571.50 L1484.45,571.52 L1492.11,571.62 L1499.76,571.79 L1507.42,572.05 L1515.08,572.42 L1522.73,572.88 L1530.38,573.46 L1538.04,574.15 L1545.69,574.96 L1553.35,575.88 L1561.00,576.93 L1568.66,578.11 L1576.32,579.42 L1583.97,580.87 L1591.62,582.44 L1599.28,584.16 L1606.93,586.02 L1614.59,588.02 L1622.24,590.16 L1629.90,592.45 L1637.55,594.89 L1645.21,597.48 L1652.87,600.22 L1660.52,603.11 L1668.17,606.17 L1675.83,609.37 L1683.48,612.74 L1691.14,616.27 L1698.79,619.96 L1706.45,623.81 L1714.11,627.83 L1721.76,632.02 L1729.41,636.37 L1737.07,640.89 L1744.72,645.58 L1752.38,650.45 L1760.03,655.48 L1767.69,660.69 L1775.34,666.08 L1783.00,671.64 L1790.65,677.38 L1798.31,683.30 L1805.96,689.39 L1813.62,695.67 L1821.27,702.13 L1828.93,708.78 L1836.59,715.60 L1844.24,722.62 L1851.89,729.82 L1859.55,737.20 L1867.20,744.78 L1874.86,752.54 L1882.51,760.49 L1890.17,768.64 L1897.82,776.97 L1905.48,785.50 L1913.13,794.22 L1920.79,803.14 L1928.44,812.25 L1936.10,821.56" fill="none" stroke="#000" stroke-width="2"/>
<g fill="#0000FF" stroke="#00004a" stroke-width="1">
<circle cx="1484.4" cy="571.5" r="11.4"/>
<circle cx="1505.7" cy="573.6" r="11.4"/>
<circle cx="1523.2" cy="572.5" r="11.4"/>
<circle cx="1539.1" cy="577.8" r="11.4"/>
<circle cx="1577.2" cy="573.0" r="11.4"/>
<circle cx="1586.7" cy="577.8" r="11.4"/>
<circle cx="1579.3" cy="589.5" r="11.4"/>
<circle cx="1564.5" cy="582.0" r="11.4"/>
<circle cx="1621.6" cy="578.9" r="11.4"/>
<circle cx="1611.1" cy="581.0" r="11.4"/>
<circle cx="1633.3" cy="593.7" r="11.4"/>
<circle cx="1620.6" cy="589.5" r="11.4"/>
<circle cx="1650.2" cy="582.0" r="11.4"/>
<circle cx="1651.3" cy="602.2" r="11.4"/>
<circle cx="1763.2" cy="638.5" r="11.4"/>
<circle cx="1770.2" cy="725.1" r="11.4"/>
<circle cx="1834.3" cy="761.5" r="11.4"/>
<circle cx="1717.1" cy="629.5" r="11.4"/>
<circle cx="1713.2" cy="634.6" r="11.4"/>
<circle cx="1706.8" cy="614.1" r="11.4"/>
</g>
<line x1="1476.80" y1="571.50" x2="1476.80" y2="583.50" stroke="#000" stroke-width="2.4" />
<g fill="#008000" stroke="#001a00" stroke-width="1" stroke-linejoin="miter">
<path d="M1503.63,558.22 L1506.81,566.85 L1516.00,567.20 L1508.77,572.89 L1511.27,581.74 L1503.63,576.62 L1495.99,581.74 L1498.50,572.89 L1491.27,567.20 L1500.46,566.85Z"/>
<path d="M1508.92,562.45 L1512.10,571.08 L1521.29,571.44 L1514.06,577.12 L1516.57,585.97 L1508.92,580.85 L1501.28,585.97 L1503.79,577.12 L1496.56,571.44 L1505.75,571.08Z"/>
<path d="M1512.10,561.92 L1515.27,570.56 L1524.46,570.91 L1517.24,576.59 L1519.74,585.44 L1512.10,580.32 L1504.46,585.44 L1506.96,576.59 L1499.74,570.91 L1508.93,570.56Z"/>
<path d="M1520.04,563.51 L1523.21,572.14 L1532.40,572.49 L1525.17,578.18 L1527.68,587.03 L1520.04,581.91 L1512.40,587.03 L1514.90,578.18 L1507.67,572.49 L1516.86,572.14Z"/>
<path d="M1531.47,559.81 L1534.64,568.44 L1543.83,568.79 L1536.60,574.48 L1539.11,583.32 L1531.47,578.21 L1523.83,583.32 L1526.33,574.48 L1519.11,568.79 L1528.30,568.44Z"/>
<path d="M1542.79,562.45 L1545.97,571.08 L1555.16,571.44 L1547.93,577.12 L1550.44,585.97 L1542.79,580.85 L1535.15,585.97 L1537.66,577.12 L1530.43,571.44 L1539.62,571.08Z"/>
<path d="M1550.73,564.57 L1553.91,573.20 L1563.10,573.55 L1555.87,579.24 L1558.37,588.09 L1550.73,582.97 L1543.09,588.09 L1545.60,579.24 L1538.37,573.55 L1547.56,573.20Z"/>
<path d="M1560.26,565.63 L1563.43,574.26 L1572.62,574.61 L1565.39,580.30 L1567.90,589.15 L1560.26,584.03 L1552.62,589.15 L1555.12,580.30 L1547.89,574.61 L1557.08,574.26Z"/>
<path d="M1571.37,564.57 L1574.55,573.20 L1583.74,573.55 L1576.51,579.24 L1579.01,588.09 L1571.37,582.97 L1563.73,588.09 L1566.24,579.24 L1559.01,573.55 L1568.20,573.20Z"/>
<path d="M1577.19,566.16 L1580.37,574.79 L1589.56,575.14 L1582.33,580.83 L1584.83,589.68 L1577.19,584.56 L1569.55,589.68 L1572.06,580.83 L1564.83,575.14 L1574.02,574.79Z"/>
<path d="M1589.89,573.57 L1593.07,582.20 L1602.26,582.55 L1595.03,588.24 L1597.54,597.08 L1589.89,591.97 L1582.25,597.08 L1584.76,588.24 L1577.53,582.55 L1586.72,582.20Z"/>
<path d="M1603.12,567.75 L1606.30,576.38 L1615.49,576.73 L1608.26,582.41 L1610.77,591.26 L1603.12,586.15 L1595.48,591.26 L1597.99,582.41 L1590.76,576.73 L1599.95,576.38Z"/>
<path d="M1619.00,573.04 L1622.17,581.67 L1631.36,582.02 L1624.14,587.71 L1626.64,596.55 L1619.00,591.44 L1611.36,596.55 L1613.87,587.71 L1606.64,582.02 L1615.83,581.67Z"/>
<path d="M1585.66,583.30 L1588.83,591.94 L1598.02,592.29 L1590.80,597.97 L1593.30,606.82 L1585.66,601.70 L1578.02,606.82 L1580.52,597.97 L1573.30,592.29 L1582.49,591.94Z"/>
<path d="M1594.13,583.30 L1597.30,591.94 L1606.49,592.29 L1599.26,597.97 L1601.77,606.82 L1594.13,601.70 L1586.49,606.82 L1588.99,597.97 L1581.76,592.29 L1590.95,591.94Z"/>
<path d="M1601.54,581.19 L1604.71,589.82 L1613.90,590.17 L1606.67,595.86 L1609.18,604.70 L1601.54,599.59 L1593.90,604.70 L1596.40,595.86 L1589.17,590.17 L1598.36,589.82Z"/>
<path d="M1589.89,579.07 L1593.07,587.70 L1602.26,588.05 L1595.03,593.74 L1597.54,602.59 L1589.89,597.47 L1582.25,602.59 L1584.76,593.74 L1577.53,588.05 L1586.72,587.70Z"/>
<path d="M1650.22,585.74 L1653.40,594.37 L1662.59,594.72 L1655.36,600.41 L1657.87,609.26 L1650.22,604.14 L1642.58,609.26 L1645.09,600.41 L1637.86,594.72 L1647.05,594.37Z"/>
<path d="M1661.34,605.85 L1664.51,614.48 L1673.70,614.83 L1666.47,620.52 L1668.98,629.37 L1661.34,624.25 L1653.70,629.37 L1656.20,620.52 L1648.97,614.83 L1658.16,614.48Z"/>
<path d="M1806.31,623.91 L1809.48,632.54 L1818.67,632.89 L1811.44,638.58 L1813.95,647.43 L1806.31,642.31 L1798.67,647.43 L1801.17,638.58 L1793.94,632.89 L1803.13,632.54Z"/>
<path d="M1826.05,644.42 L1829.23,653.05 L1838.42,653.41 L1831.19,659.09 L1833.69,667.94 L1826.05,662.82 L1818.41,667.94 L1820.92,659.09 L1813.69,653.41 L1822.88,653.05Z"/>
<path d="M1871.69,652.88 L1874.87,661.52 L1884.06,661.87 L1876.83,667.55 L1879.33,676.40 L1871.69,671.28 L1864.05,676.40 L1866.56,667.55 L1859.33,661.87 L1868.52,661.52Z"/>
<path d="M1740.15,628.01 L1743.33,636.64 L1752.52,637.00 L1745.29,642.68 L1747.80,651.53 L1740.15,646.41 L1732.51,651.53 L1735.02,642.68 L1727.79,637.00 L1736.98,636.64Z"/>
<path d="M1715.28,634.94 L1718.46,643.57 L1727.65,643.92 L1720.42,649.60 L1722.92,658.45 L1715.28,653.34 L1707.64,658.45 L1710.15,649.60 L1702.92,643.92 L1712.11,643.57Z"/>
<path d="M1727.33,658.01 L1730.51,666.64 L1739.70,667.00 L1732.47,672.68 L1734.97,681.53 L1727.33,676.41 L1719.69,681.53 L1722.20,672.68 L1714.97,667.00 L1724.16,666.64Z"/>
<path d="M1743.49,664.42 L1746.66,673.05 L1755.85,673.41 L1748.62,679.09 L1751.13,687.94 L1743.49,682.82 L1735.85,687.94 L1738.35,679.09 L1731.12,673.41 L1740.31,673.05Z"/>
<path d="M1699.13,600.83 L1702.30,609.46 L1711.49,609.82 L1704.26,615.50 L1706.77,624.35 L1699.13,619.23 L1691.49,624.35 L1693.99,615.50 L1686.76,609.82 L1695.95,609.46Z"/>
</g>
<path d="M1522.60,744.40 L1526.30,754.20 L1536.77,754.70 L1528.59,761.25 L1531.36,771.35 L1522.60,765.60 L1513.84,771.35 L1516.61,761.25 L1508.43,754.70 L1518.90,754.20Z" fill="#008000" stroke="#000" stroke-width="1.2"/>
<circle cx="1522.5" cy="820.1" r="9.8" fill="#0000FF" stroke="#000" stroke-width="1.2"/>
<text x="1561.00" y="771.00" font-size="30.5" textLength="53.50" lengthAdjust="spacingAndGlyphs" stroke="#000" stroke-width="0.5">Pain</text>
<text x="1560.60" y="831.20" font-size="30.5" textLength="95.60" lengthAdjust="spacingAndGlyphs" stroke="#000" stroke-width="0.5">No Pain</text>
<text transform="translate(1400.30 924.30) rotate(-90)" font-size="30.5" textLength="335.00" lengthAdjust="spacingAndGlyphs" stroke="#000" stroke-width="0.5">Inferred Force at MTrP (N)</text>
<text x="1509.00" y="1015.50" font-size="30.5" textLength="423.00" lengthAdjust="spacingAndGlyphs" stroke="#000" stroke-width="0.5">MTrP Depth/Tissue Size (Fraction)</text>
</svg>
</body></html>
